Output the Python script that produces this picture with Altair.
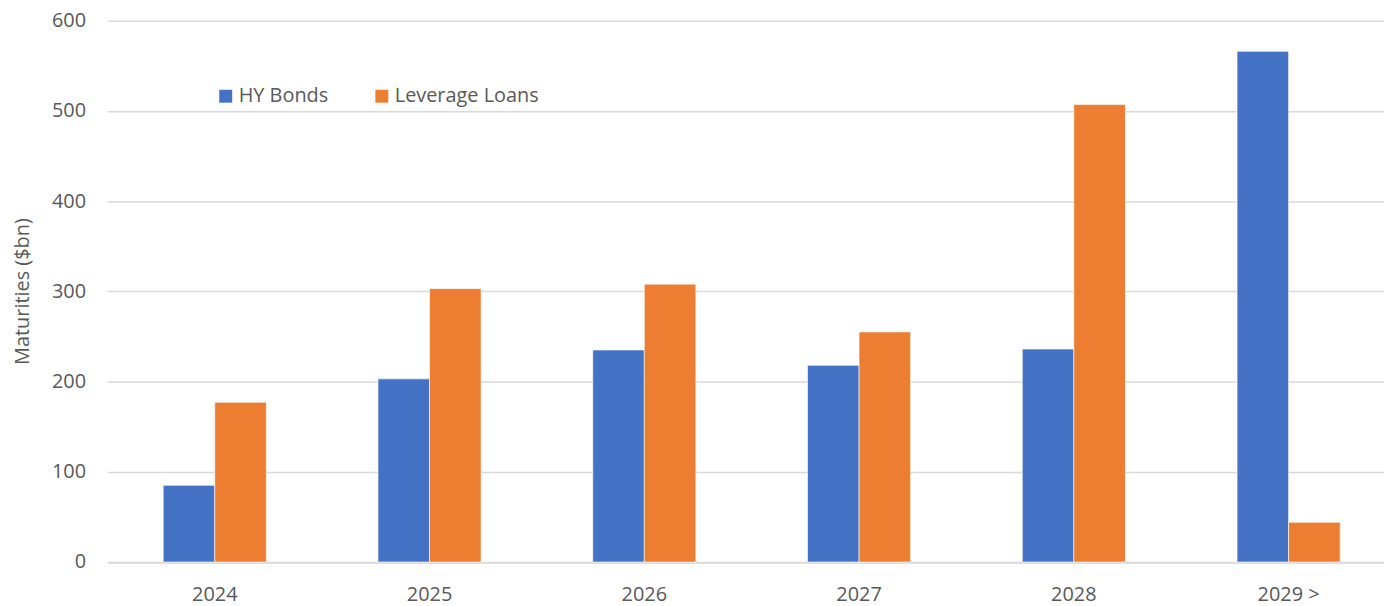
import altair as alt
import pandas as pd

years = ["2024", "2025", "2026", "2027", "2028", "2029 >"]
hy_bonds = [85, 203, 235, 218, 236, 566]
lev_loans = [177, 303, 308, 255, 507, 44]
series = ["HY Bonds", "Leverage Loans"]
colors = ["#4472C4", "#ED7D31"]

rows = []
for y, h, l in zip(years, hy_bonds, lev_loans):
    rows.append({"year": y, "series": series[0], "value": h})
    rows.append({"year": y, "series": series[1], "value": l})
df = pd.DataFrame(rows)

FONT = "Open Sans"
GRAY = "#595959"

chart = alt.Chart(df).mark_bar(stroke="white", strokeWidth=0.6).encode(
    x=alt.X("year:N", sort=years, title=None,
            scale=alt.Scale(paddingInner=0.52, paddingOuter=0.232, align=0.56),
            axis=alt.Axis(labelAngle=0, labelFontSize=20, labelColor=GRAY, labelFont=FONT,
                          ticks=False, grid=False, domainColor="#d9d9d9", domainWidth=1.5,
                          labelPadding=23)),
    xOffset=alt.XOffset("series:N", sort=series),
    y=alt.Y("value:Q", title="Maturities ($bn)",
            scale=alt.Scale(domain=[0, 600], nice=False),
            axis=alt.Axis(values=[0, 100, 200, 300, 400, 500, 600], labelFontSize=20,
                          labelColor=GRAY, labelFont=FONT, ticks=False, domain=False,
                          labelPadding=22, gridColor="#d9d9d9", gridWidth=1.5,
                          titleFont=FONT, titleFontSize=20, titleFontWeight="normal",
                          titleColor=GRAY, titleAngle=-90, titleX=-85, titleY=272,
                          titleAlign="center", titleBaseline="middle")),
    color=alt.Color("series:N", sort=series,
                    scale=alt.Scale(domain=series, range=colors),
                    legend=alt.Legend(title=None, orient="none", direction="horizontal",
                                      legendX=109, legendY=66, padding=0,
                                      symbolType="square", symbolSize=169,
                                      symbolStrokeWidth=0, labelFontSize=20,
                                      labelFont=FONT, labelColor=GRAY, labelOffset=3,
                                      columnPadding=43)),
).properties(
    width=1284, height=544.5,
    background="white",
    autosize=alt.AutoSizeParams(type="none"),
    padding={"left": 100, "top": 11, "right": 0, "bottom": 46},
).configure_view(stroke="transparent", strokeWidth=0)

chart.save("out.html", embed_options={"renderer": "svg", "actions": False})
